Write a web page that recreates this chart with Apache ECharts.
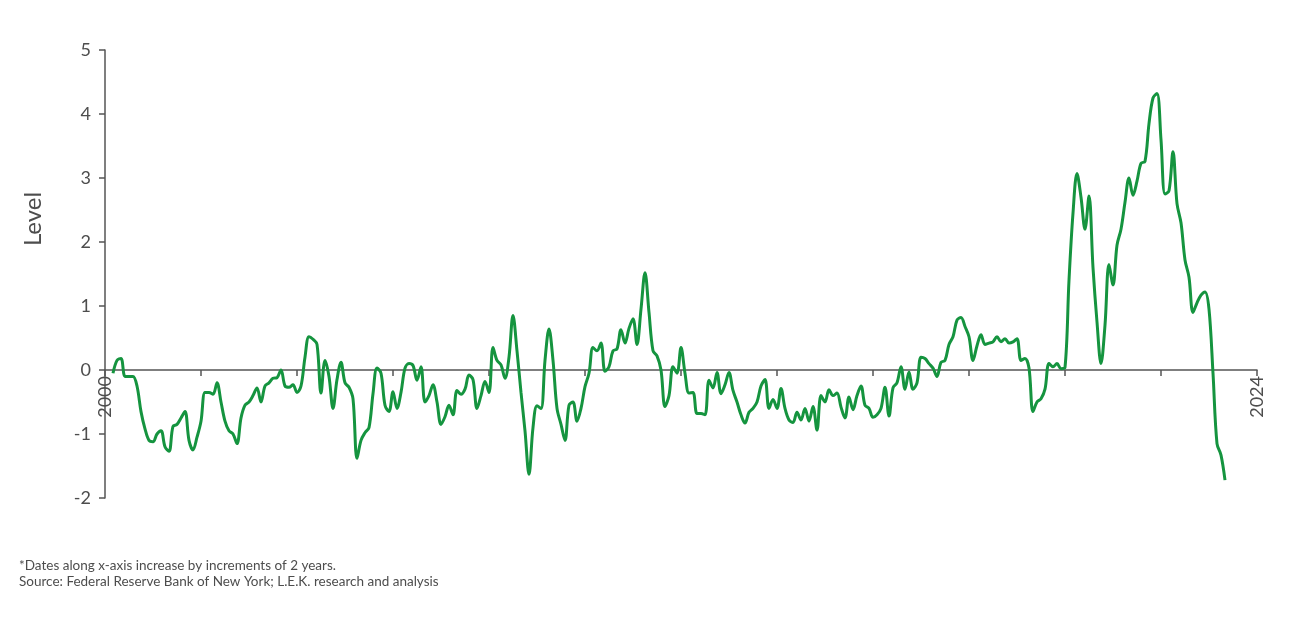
<!DOCTYPE html>
<html>
<head>
    <meta charset="utf-8">
    <title>GSCPI</title>
    <script src="https://cdn.jsdelivr.net/npm/echarts@6/dist/echarts.min.js"></script>
    <style>
        html, body { margin: 0; padding: 0; background: #fff; }
        #main { width: 1300px; height: 624px; }
    </style>
</head>
<body>
    <div id="main"></div>
    <script type="text/javascript">
    // monthly index, first point is March 2000
    var startYear = 2000;
    var startMonth = 2; // 0 = January
    var levels = [
        -0.05, 0.15, 0.18, -0.1, -0.1, -0.1, -0.25, -0.65, -0.92, -1.1,
        -1.12, -1.0, -0.95, -1.2, -1.27, -0.88, -0.85, -0.75, -0.65, -1.1,
        -1.25, -1.05, -0.8, -0.35, -0.35, -0.38, -0.2, -0.5, -0.8, -0.95,
        -1.0, -1.15, -0.75, -0.55, -0.5, -0.4, -0.28, -0.5, -0.25, -0.2,
        -0.13, -0.12, 0.0, -0.25, -0.27, -0.23, -0.35, -0.25, 0.2, 0.52,
        0.48, 0.4, -0.36, 0.15, -0.1, -0.6, -0.15, 0.12, -0.2, -0.27,
        -0.45, -1.38, -1.1, -0.98, -0.9, -0.37, 0.03, -0.05, -0.55, -0.65,
        -0.34, -0.6, -0.35, 0.03, 0.1, 0.07, -0.16, 0.05, -0.5, -0.4,
        -0.23, -0.5, -0.85, -0.73, -0.55, -0.7, -0.32, -0.38, -0.3, -0.08,
        -0.15, -0.6, -0.4, -0.18, -0.35, 0.35, 0.15, 0.08, -0.13, 0.2,
        0.85, 0.3, -0.35, -0.95, -1.63, -0.9, -0.56, -0.6, 0.15, 0.64,
        0.15, -0.6, -0.85, -1.1, -0.55, -0.5, -0.8, -0.6, -0.26, -0.05,
        0.35, 0.3, 0.42, -0.02, 0.05, 0.3, 0.33, 0.63, 0.42, 0.65,
        0.8, 0.4, 0.95, 1.52, 0.9, 0.3, 0.22, 0.0, -0.57, -0.4,
        0.05, -0.05, 0.35, -0.05, -0.36, -0.35, -0.68, -0.68, -0.7, -0.16,
        -0.28, -0.04, -0.37, -0.23, -0.04, -0.32, -0.5, -0.7, -0.83, -0.66,
        -0.6, -0.5, -0.25, -0.15, -0.6, -0.46, -0.6, -0.29, -0.6, -0.78,
        -0.82, -0.66, -0.78, -0.6, -0.8, -0.57, -0.94, -0.4, -0.5, -0.31,
        -0.4, -0.36, -0.58, -0.75, -0.42, -0.62, -0.4, -0.25, -0.55, -0.6,
        -0.74, -0.7, -0.6, -0.27, -0.72, -0.28, -0.2, 0.05, -0.3, -0.03,
        -0.3, -0.2, 0.2, 0.18, 0.1, 0.03, -0.1, 0.12, 0.15, 0.4,
        0.52, 0.78, 0.82, 0.68, 0.52, 0.15, 0.38, 0.55, 0.4, 0.42,
        0.44, 0.52, 0.44, 0.49, 0.42, 0.44, 0.49, 0.15, 0.18, 0.03,
        -0.65, -0.5, -0.45, -0.3, 0.1, 0.05, 0.1, 0.02, 0.04, 1.4,
        2.45, 3.07, 2.7, 2.2, 2.72, 1.6, 0.75, 0.1, 0.7, 1.65,
        1.33, 1.95, 2.2, 2.62, 3.0, 2.73, 2.95, 3.23, 3.26, 3.85,
        4.25, 4.32, 3.6, 2.75, 2.8, 3.41, 2.6, 2.3, 1.72, 1.45,
        0.9, 1.05, 1.17, 1.22, 0.95, -0.05, -1.15, -1.33, -1.72
    ];
    var yearTicks = [2000, 2024];
    var notes = [
        '*Dates along x-axis increase by increments of 2 years.',
        'Source: Federal Reserve Bank of New York; L.E.K. research and analysis'
    ];

    var seriesData = levels.map(function (v, i) {
        return [startYear + (startMonth + i) / 12, v];
    });

    var axisColor = '#555555';
    var textColor = '#4d4d4d';
    var fontFamily = 'Lato, "Open Sans", sans-serif';

    var gridTop = 50, gridBottom = 126, plotH = 624 - gridTop - gridBottom;
    var yMin = -2, yMax = 5;
    // lift the x axis from the bottom of the grid up to the zero line
    var zeroOffset = -plotH * (0 - yMin) / (yMax - yMin);

    var myChart = echarts.init(document.getElementById('main'));

    var option = {
        animation: false,
        textStyle: { fontFamily: fontFamily },
        grid: { left: 105, right: 43, top: gridTop, bottom: gridBottom, containLabel: false },
        xAxis: {
            type: 'value',
            min: 2000,
            max: 2024,
            interval: 2,
            offset: zeroOffset,
            axisLine: { show: true, onZero: false, lineStyle: { color: axisColor, width: 1.5 } },
            axisTick: { show: true, length: 6, lineStyle: { color: axisColor, width: 1.5 } },
            splitLine: { show: false },
            axisLabel: {
                rotate: 90,
                margin: 6,
                fontSize: 18,
                color: textColor,
                fontFamily: fontFamily,
                formatter: function (v) {
                    return yearTicks.indexOf(v) >= 0 ? String(v) : '';
                }
            }
        },
        yAxis: {
            type: 'value',
            min: yMin,
            max: yMax,
            interval: 1,
            axisLine: { show: true, onZero: false, lineStyle: { color: axisColor, width: 1.5 } },
            axisTick: { show: true, length: 6, lineStyle: { color: axisColor, width: 1.5 } },
            splitLine: { show: false },
            axisLabel: { margin: 14, fontSize: 18, color: textColor, fontFamily: fontFamily }
        },
        graphic: [
            {
                type: 'text',
                x: 33,
                y: 219,
                rotation: Math.PI / 2,
                style: {
                    text: 'Level',
                    fontSize: 24,
                    fill: textColor,
                    fontFamily: fontFamily,
                    align: 'center',
                    verticalAlign: 'middle'
                }
            },
            {
                type: 'text',
                left: 19,
                top: 559,
                style: { text: notes[0], fontSize: 13.5, fill: textColor, fontFamily: fontFamily }
            },
            {
                type: 'text',
                left: 19,
                top: 575,
                style: { text: notes[1], fontSize: 13.5, fill: textColor, fontFamily: fontFamily }
            }
        ],
        series: [
            {
                type: 'line',
                data: seriesData,
                showSymbol: false,
                smooth: 0.35,
                lineStyle: { color: '#15943f', width: 3 },
                itemStyle: { color: '#15943f' }
            }
        ]
    };

    myChart.setOption(option);
    </script>
</body>
</html>
